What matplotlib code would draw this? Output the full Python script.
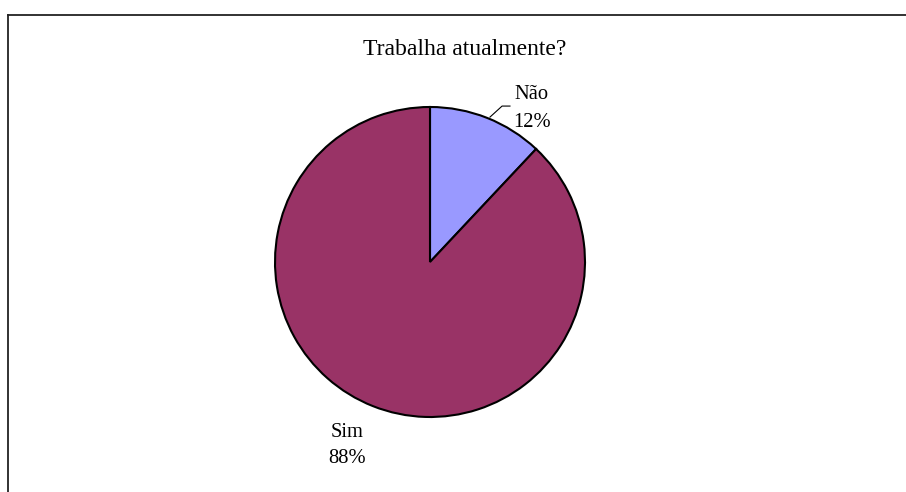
import matplotlib.pyplot as plt
from matplotlib.lines import Line2D

labels = ['Não', 'Sim']
fracs = [12, 88]
colors = ['#9999FF', '#993366']

plt.rcParams['font.family'] = ['Liberation Serif', 'DejaVu Serif']

fig = plt.figure(figsize=(9.06, 4.92), dpi=100)
W, H = 906, 492

# frame of the chart area (top and left edges visible)
fig.add_artist(Line2D([8 / W, 1], [1 - 15 / H, 1 - 15 / H], color='#222222', lw=1.3))
fig.add_artist(Line2D([8 / W, 8 / W], [0, 1 - 15 / H], color='#222222', lw=1.3))

fig.text(465 / W, 1 - 55 / H, 'Trabalha atualmente?', ha='center', va='baseline', fontsize=17)

cx, cy, r = 430, 262, 155
ax = fig.add_axes([(cx - r) / W, (H - cy - r) / H, 2 * r / W, 2 * r / H])
ax.pie(fracs, colors=colors, startangle=90, counterclock=False,
       wedgeprops=dict(edgecolor='black', linewidth=1.5))
ax.set_xlim(-1, 1)
ax.set_ylim(-1, 1)
ax.axis('off')

# label name / percentage, one text per line
label_pos = [(0.658, 1.052, 0.871), (-0.535, -1.129, -1.297)]
for lab, v, (x, y1, y2) in zip(labels, fracs, label_pos):
    ax.text(x, y1, lab, ha='center', va='baseline', fontsize=14.8, clip_on=False)
    ax.text(x, y2, '%d%%' % v, ha='center', va='baseline', fontsize=14.8, clip_on=False)

# leader line for the small slice
ax.plot([0.387, 0.465, 0.516], [0.935, 1.006, 1.006], color='black', lw=0.8, clip_on=False)

fig.savefig('out.png', dpi=100)
